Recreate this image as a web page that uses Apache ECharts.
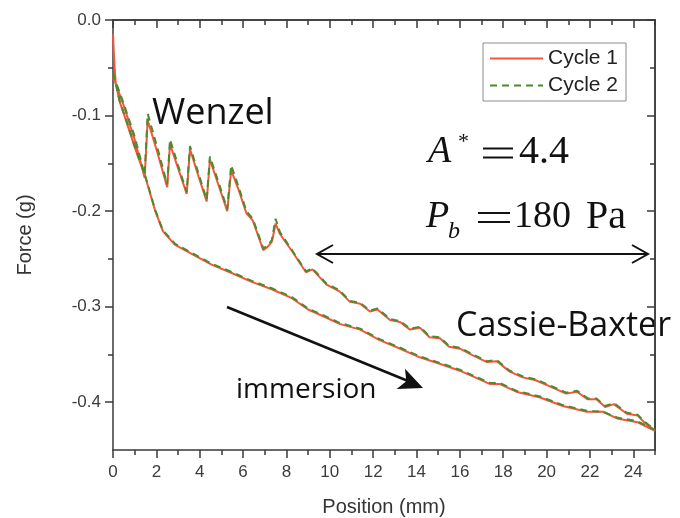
<!DOCTYPE html>
<html>
<head>
<meta charset="utf-8">
<script src="https://cdn.jsdelivr.net/npm/echarts@6/dist/echarts.min.js"></script>
<style>
html, body { margin: 0; padding: 0; background: #fff; }
#chart { width: 680px; height: 518px; }
</style>
</head>
<body>
<div id="chart"></div>
<script>
// immersion branch (position in mm, force in g)
const immersionPos = [0, 0.05, 0.12, 0.3, 0.6, 1.0, 1.5, 1.95, 2.3, 2.85, 3.65, 4.55, 5.5, 6.4, 7.35, 8.25, 9.0, 9.7, 10.45, 11.4, 12.3, 13.25, 14.15, 15.1, 16.0, 16.7, 17.4, 17.85, 18.6, 19.7, 20.75, 21.85, 22.6, 23.25, 24.2, 25];
const cycle1Immersion = [-0.015, -0.04, -0.065, -0.085, -0.105, -0.133, -0.165, -0.2, -0.221, -0.235, -0.245, -0.256, -0.265, -0.274, -0.282, -0.291, -0.303, -0.31, -0.318, -0.324, -0.335, -0.344, -0.353, -0.36, -0.367, -0.374, -0.381, -0.381, -0.389, -0.395, -0.404, -0.41, -0.41, -0.417, -0.421, -0.43];
const cycle2Immersion = [-0.055, -0.058, -0.066, -0.084, -0.104, -0.132, -0.164, -0.199, -0.22, -0.234, -0.244, -0.255, -0.264, -0.273, -0.281, -0.29, -0.302, -0.309, -0.317, -0.323, -0.334, -0.343, -0.352, -0.359, -0.366, -0.373, -0.38, -0.38, -0.388, -0.394, -0.403, -0.409, -0.41, -0.416, -0.42, -0.429];

// retraction branch, going back from 25 mm to 0 (Wenzel teeth)
const retractionPos = [25, 24.5, 24.2, 23.7, 23.1, 22.7, 22.3, 21.9, 21.4, 20.9, 20.2, 19.5, 18.9, 18.3, 17.7, 17.25, 16.6, 16.0, 15.5, 15.08, 14.6, 14.16, 13.7, 13.24, 12.78, 12.2, 11.85, 11.4, 10.93, 10.45, 9.85, 9.2, 8.9, 8.26, 7.7, 7.5, 7.33, 7.15, 6.93, 6.45, 6.15, 5.8, 5.45, 5.27, 4.9, 4.47, 4.32, 3.95, 3.55, 3.4, 3.0, 2.63, 2.5, 2.05, 1.6, 1.46, 1.0, 0.5, 0.15, 0];
const cycle1Retraction = [-0.43, -0.421, -0.414, -0.412, -0.402, -0.405, -0.397, -0.397, -0.389, -0.391, -0.384, -0.377, -0.374, -0.368, -0.357, -0.358, -0.351, -0.344, -0.342, -0.333, -0.332, -0.322, -0.324, -0.316, -0.314, -0.303, -0.305, -0.297, -0.295, -0.284, -0.277, -0.261, -0.264, -0.242, -0.224, -0.213, -0.232, -0.237, -0.241, -0.21, -0.202, -0.178, -0.157, -0.2, -0.175, -0.146, -0.19, -0.164, -0.135, -0.182, -0.155, -0.13, -0.175, -0.139, -0.105, -0.165, -0.125, -0.09, -0.068, -0.06];
const cycle2Retraction = [-0.429, -0.42, -0.413, -0.411, -0.401, -0.404, -0.396, -0.396, -0.388, -0.39, -0.383, -0.376, -0.373, -0.367, -0.356, -0.357, -0.35, -0.343, -0.341, -0.332, -0.331, -0.321, -0.323, -0.315, -0.313, -0.302, -0.304, -0.296, -0.294, -0.283, -0.276, -0.26, -0.263, -0.241, -0.222, -0.208, -0.23, -0.236, -0.239, -0.208, -0.2, -0.175, -0.152, -0.198, -0.172, -0.143, -0.188, -0.161, -0.132, -0.18, -0.152, -0.125, -0.172, -0.134, -0.098, -0.162, -0.122, -0.088, -0.066, -0.058];

const xTicks = [0, 2, 4, 6, 8, 10, 12, 14, 16, 18, 20, 22, 24];
const xMinorTicks = [1, 3, 5, 7, 9, 11, 13, 15, 17, 19, 21, 23, 25];
const yTicks = [0, -0.1, -0.2, -0.3, -0.4];
const yMinorTicks = [-0.05, -0.15, -0.25, -0.35];
const seriesNames = ['Cycle 1', 'Cycle 2'];

function pairs(xs, ys) {
  return xs.map((x, i) => [x, ys[i]]);
}
const cycle1 = pairs(immersionPos, cycle1Immersion).concat(pairs(retractionPos, cycle1Retraction));
const cycle2 = pairs(immersionPos, cycle2Immersion).concat(pairs(retractionPos, cycle2Retraction));

const axisColor = '#3a3a3a';
const tickFont = 'Liberation Sans';

function xAxisDef(position, ticks, len, inside, withLabels) {
  return {
    type: 'value', min: 0, max: 25, interval: 1, position: position,
    axisLine: { show: withLabels || position === 'top', onZero: false, lineStyle: { color: axisColor, width: 1.5 } },
    axisTick: { show: true, inside: inside, length: len, customValues: ticks, lineStyle: { color: axisColor, width: 1.5 } },
    axisLabel: withLabels ? { show: true, customValues: xTicks, fontSize: 17, color: '#3c3c3c', fontFamily: tickFont, margin: 14 } : { show: false },
    splitLine: { show: false },
    name: withLabels ? 'Position (mm)' : '',
    nameLocation: 'middle', nameGap: 47,
    nameTextStyle: { fontSize: 20, color: '#333', fontFamily: tickFont }
  };
}
function yAxisDef(position, ticks, len, inside, withLabels) {
  return {
    type: 'value', min: -0.45, max: 0, interval: 0.05, position: position,
    axisLine: { show: withLabels || position === 'right', onZero: false, lineStyle: { color: axisColor, width: 1.5 } },
    axisTick: { show: true, inside: inside, length: len, customValues: ticks, lineStyle: { color: axisColor, width: 1.5 } },
    axisLabel: withLabels ? { show: true, customValues: yTicks, fontSize: 17, color: '#3c3c3c', fontFamily: tickFont, margin: 12,
      formatter: v => v.toFixed(1) } : { show: false },
    splitLine: { show: false },
    name: withLabels ? 'Force (g)' : '',
    nameLocation: 'middle', nameGap: 78, nameRotate: 90,
    nameTextStyle: { fontSize: 20, color: '#333', fontFamily: tickFont }
  };
}

const chart = echarts.init(document.getElementById('chart'));
chart.setOption({
  animation: false,
  backgroundColor: '#fff',
  grid: { left: 113, right: 25, top: 20, bottom: 68, outerBoundsMode: 'none' },
  xAxis: [
    xAxisDef('bottom', xTicks, 8, false, true),
    xAxisDef('bottom', xMinorTicks, 5, false, false),
    xAxisDef('top', xTicks, 8, true, false),
    xAxisDef('top', xMinorTicks, 5, true, false)
  ],
  yAxis: [
    yAxisDef('left', yTicks, 8, false, true),
    yAxisDef('left', yMinorTicks, 5, false, false),
    yAxisDef('right', yTicks, 8, true, false),
    yAxisDef('right', yMinorTicks, 5, true, false)
  ],
  legend: {
    data: seriesNames, orient: 'vertical', left: 483, top: 43,
    itemWidth: 53, itemHeight: 18, itemGap: 6, padding: [5, 8, 5, 6],
    borderColor: '#8c8c8c', borderWidth: 1, backgroundColor: '#fff',
    itemStyle: { opacity: 0 },
    textStyle: { fontSize: 21, color: '#222', fontFamily: tickFont }
  },
  series: [
    { name: seriesNames[0], type: 'line', data: cycle1, symbol: 'none', z: 2,
      lineStyle: { color: '#f4563c', width: 2 }, itemStyle: { color: '#f4563c' } },
    { name: seriesNames[1], type: 'line', data: cycle2, symbol: 'none', z: 3,
      lineStyle: { color: '#4e8a2c', width: 2, type: [7, 5] }, itemStyle: { color: '#4e8a2c' } }
  ],
  graphic: [
    { type: 'text', x: 152, y: 114, style: { text: 'Wenzel', font: '36px "Open Sans"', fill: '#111', verticalAlign: 'middle' } },
    { type: 'text', x: 456, y: 326, style: { text: 'Cassie-Baxter', font: '34px "Open Sans"', fill: '#111', verticalAlign: 'middle' } },
    { type: 'text', x: 236, y: 390, style: { text: 'immersion', font: '28px "Open Sans"', fill: '#111', verticalAlign: 'middle' } },
    // A* = 4.4
    { type: 'text', x: 428, y: 152, style: { text: 'A', font: 'italic 38px "Liberation Serif"', fill: '#111', verticalAlign: 'middle' } },
    { type: 'text', x: 458, y: 142, style: { text: '*', font: '22px "Liberation Serif"', fill: '#111', verticalAlign: 'middle' } },
    { type: 'line', shape: { x1: 483, y1: 148.5, x2: 513, y2: 148.5 }, style: { stroke: '#111', lineWidth: 2 } },
    { type: 'line', shape: { x1: 483, y1: 157.5, x2: 513, y2: 157.5 }, style: { stroke: '#111', lineWidth: 2 } },
    { type: 'text', x: 519, y: 152, style: { text: '4.4', font: '40px "Liberation Serif"', fill: '#111', verticalAlign: 'middle' } },
    // Pb = 180 Pa
    { type: 'text', x: 426, y: 217, style: { text: 'P', font: 'italic 38px "Liberation Serif"', fill: '#111', verticalAlign: 'middle' } },
    { type: 'text', x: 448, y: 232, style: { text: 'b', font: 'italic 24px "Liberation Serif"', fill: '#111', verticalAlign: 'middle' } },
    { type: 'line', shape: { x1: 478, y1: 213, x2: 510, y2: 213 }, style: { stroke: '#111', lineWidth: 2 } },
    { type: 'line', shape: { x1: 478, y1: 222, x2: 510, y2: 222 }, style: { stroke: '#111', lineWidth: 2 } },
    { type: 'text', x: 514, y: 217, style: { text: '180', font: '38px "Liberation Serif"', fill: '#111', verticalAlign: 'middle' } },
    { type: 'text', x: 586, y: 217, style: { text: 'Pa', font: '40px "Liberation Serif"', fill: '#111', verticalAlign: 'middle' } },
    // double arrow
    { type: 'line', shape: { x1: 317, y1: 254, x2: 648, y2: 254 }, style: { stroke: '#111', lineWidth: 2 } },
    { type: 'polyline', shape: { points: [[333, 245], [317, 254], [333, 263]] }, style: { stroke: '#111', lineWidth: 2, fill: null } },
    { type: 'polyline', shape: { points: [[632, 245], [648, 254], [632, 263]] }, style: { stroke: '#111', lineWidth: 2, fill: null } },
    // immersion arrow
    { type: 'line', shape: { x1: 227, y1: 307, x2: 408, y2: 381 }, style: { stroke: '#111', lineWidth: 2.5 } },
    { type: 'polygon', shape: { points: [[423, 388], [396.6, 389.1], [406.3, 381.2], [405, 368.7]] }, style: { fill: '#111' } }
  ]
});
</script>
</body>
</html>
